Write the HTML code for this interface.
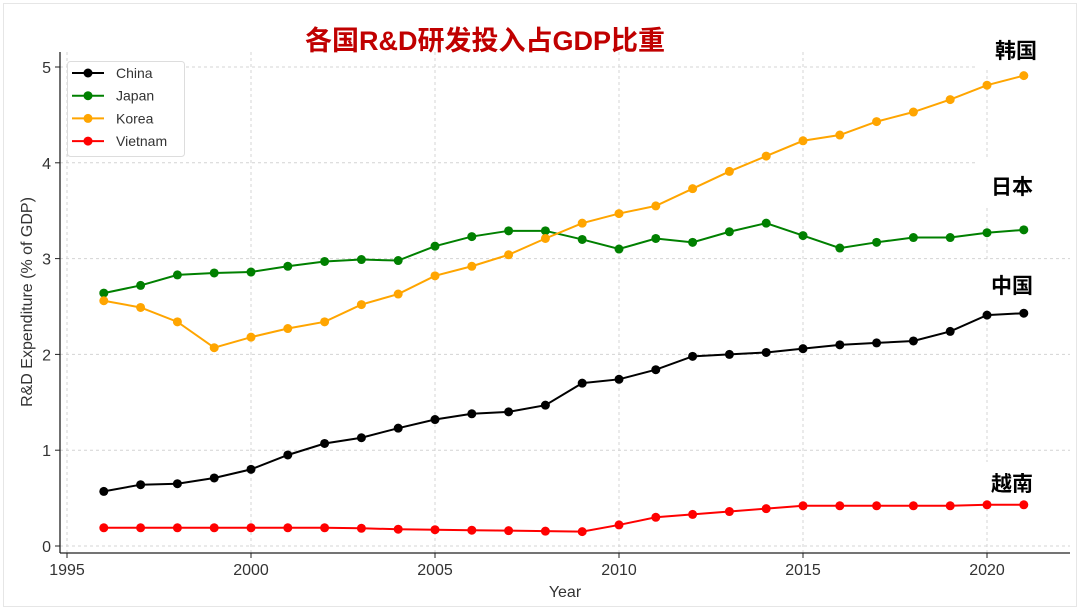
<!DOCTYPE html>
<html><head><meta charset="utf-8"><style>
body{margin:0;background:#fff;}
svg{display:block;font-family:"Liberation Sans","DejaVu Sans","Noto Sans CJK SC",sans-serif;}
</style></head><body>
<svg id="s" width="1080" height="610" xmlns="http://www.w3.org/2000/svg">
<rect x="3.5" y="3.5" width="1073" height="603" fill="#fff" stroke="#e6e6e6"/>
<g id="grid"></g>
<g id="labelsbg"></g>
<g id="series"></g>
<line x1="60" y1="52" x2="60" y2="553" stroke="#222" stroke-width="1.3"/>
<line x1="60" y1="553" x2="1070" y2="553" stroke="#222" stroke-width="1.3"/>
<g id="ticks" font-size="16" fill="#333"></g>
<text x="565" y="597" font-size="16" fill="#333" text-anchor="middle">Year</text>
<text transform="translate(32,302) rotate(-90)" font-size="16" fill="#333" text-anchor="middle">R&amp;D Expenditure (% of GDP)</text>
<text x="485" y="50" font-size="27" font-weight="bold" fill="#c00000" text-anchor="middle" font-family="'Liberation Sans','Noto Sans CJK SC',sans-serif">各国R&amp;D研发投入占GDP比重</text>
<g font-size="21" font-weight="bold" fill="#000" font-family="'Liberation Sans','Noto Sans CJK SC',sans-serif" text-anchor="middle">
<text x="1016" y="58">韩国</text>
<text x="1012" y="194">日本</text>
<text x="1012" y="293">中国</text>
<text x="1012" y="491">越南</text>
</g>
<g id="legend">
<rect x="67.5" y="61.5" width="117" height="95" rx="3" fill="#fff" stroke="#ddd"/>
</g>
</svg>
<script>
const X=y=>67+(y-1995)*36.8, Y=v=>546-v*95.8;
const ns="http://www.w3.org/2000/svg";
function el(t,a,p){const e=document.createElementNS(ns,t);for(const k in a)e.setAttribute(k,a[k]);document.getElementById(p).appendChild(e);return e;}
for(let y=1995;y<=2020;y+=5){el("line",{x1:X(y),x2:X(y),y1:52,y2:553,stroke:"#d4d4d4","stroke-dasharray":"3,3"},"grid");
 el("line",{x1:X(y),x2:X(y),y1:553,y2:558,stroke:"#222"},"ticks");
 const t=el("text",{x:X(y),y:575,"text-anchor":"middle"},"ticks");t.textContent=y;}
for(let v=0;v<=5;v++){el("line",{x1:60,x2:1070,y1:Y(v),y2:Y(v),stroke:"#d4d4d4","stroke-dasharray":"3,3"},"grid");
 el("line",{x1:55,x2:60,y1:Y(v),y2:Y(v),stroke:"#222"},"ticks");
 const t=el("text",{x:51,y:Y(v)+6,"text-anchor":"end"},"ticks");t.textContent=v;}
[[975,30,95,40],[975,158,95,50],[975,262,95,45],[975,462,95,42]].forEach(r=>el("rect",{x:r[0],y:r[1],width:r[2],height:r[3],fill:"#fff"},"labelsbg"));
const D={
"#000":[.57,.64,.65,.71,.80,.95,1.07,1.13,1.23,1.32,1.38,1.40,1.47,1.70,1.74,1.84,1.98,2.00,2.02,2.06,2.10,2.12,2.14,2.24,2.41,2.43],
"#008000":[2.64,2.72,2.83,2.85,2.86,2.92,2.97,2.99,2.98,3.13,3.23,3.29,3.29,3.20,3.10,3.21,3.17,3.28,3.37,3.24,3.11,3.17,3.22,3.22,3.27,3.30],
"#ffa500":[2.56,2.49,2.34,2.07,2.18,2.27,2.34,2.52,2.63,2.82,2.92,3.04,3.21,3.37,3.47,3.55,3.73,3.91,4.07,4.23,4.29,4.43,4.53,4.66,4.81,4.91],
"#ff0000":[.19,.19,.19,.19,.19,.19,.19,.185,.175,.17,.165,.16,.155,.15,.22,.30,.33,.36,.39,.42,.42,.42,.42,.42,.43,.43]};
for(const c in D){const pts=D[c].map((v,i)=>X(1996+i)+","+Y(v));
 el("polyline",{points:pts.join(" "),fill:"none",stroke:c,"stroke-width":2},"series");
 D[c].forEach((v,i)=>el("circle",{cx:X(1996+i),cy:Y(v),r:4.5,fill:c},"series"));}
[["China","#000"],["Japan","#008000"],["Korea","#ffa500"],["Vietnam","#ff0000"]].forEach((l,i)=>{const y=73+i*22.7;
 el("line",{x1:72,x2:104,y1:y,y2:y,stroke:l[1],"stroke-width":2},"legend");
 el("circle",{cx:88,cy:y,r:4.5,fill:l[1]},"legend");
 const t=el("text",{x:116,y:y+5,"font-size":14,fill:"#333"},"legend");t.textContent=l[0];});
</script>
</body></html>
